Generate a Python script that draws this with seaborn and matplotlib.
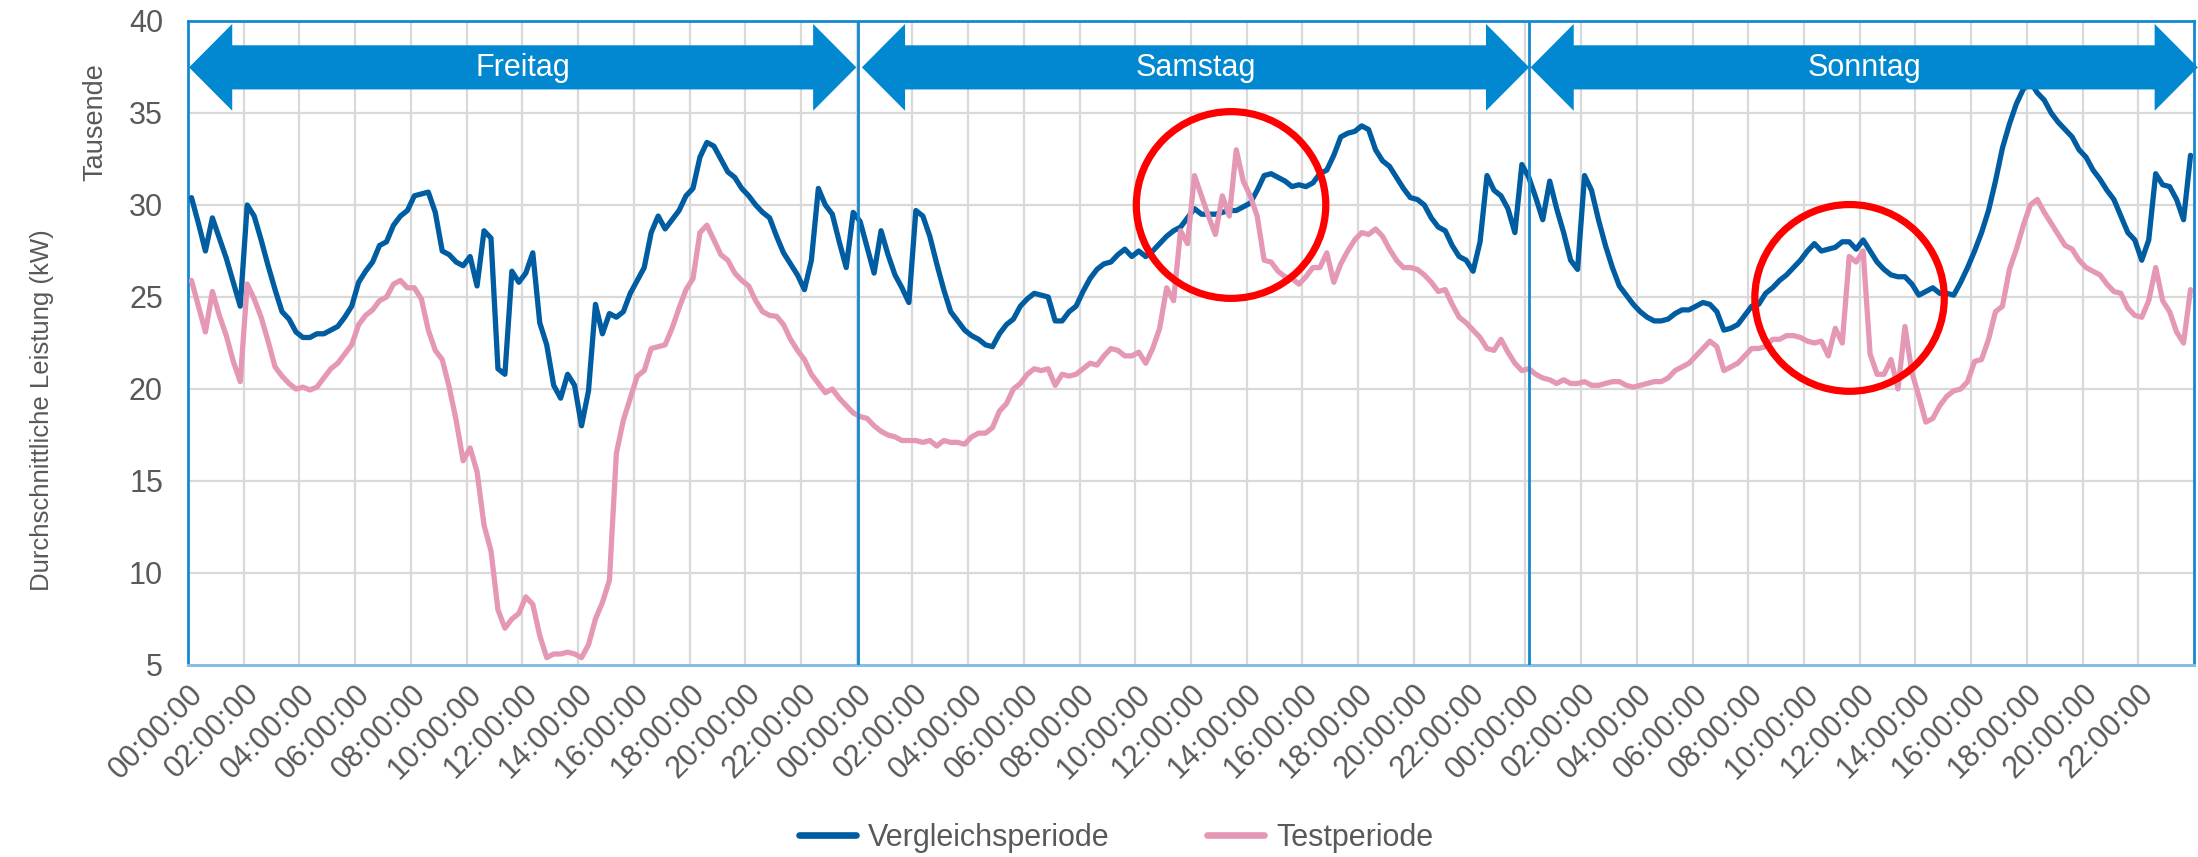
import numpy as np
import pandas as pd
import matplotlib
matplotlib.use("Agg")
import matplotlib.pyplot as plt
from matplotlib.patches import Polygon, Ellipse
from matplotlib.lines import Line2D
import seaborn as sns

# ---------------- data (15-min averages, thousands of kW) ----------------
days = ["Freitag", "Samstag", "Sonntag"]
hour_labels = ["00:00:00", "02:00:00", "04:00:00", "06:00:00", "08:00:00", "10:00:00",
               "12:00:00", "14:00:00", "16:00:00", "18:00:00", "20:00:00", "22:00:00"]
series_names = ["Vergleichsperiode", "Testperiode"]

vergleich_fr = [30.4, 29.0, 27.5, 29.3, 28.2, 27.1, 25.8, 24.5, 30.0, 29.4, 28.1, 26.7,
                25.4, 24.2, 23.8, 23.1, 22.8, 22.8, 23.0, 23.0, 23.2, 23.4, 23.9, 24.5,
                25.8, 26.4, 26.9, 27.8, 28.0, 28.9, 29.4, 29.7, 30.5, 30.6, 30.7, 29.6,
                27.5, 27.3, 26.9, 26.7, 27.2, 25.6, 28.6, 28.2, 21.1, 20.8, 26.4, 25.8,
                26.3, 27.4, 23.6, 22.4, 20.2, 19.5, 20.8, 20.2, 18.0, 19.9, 24.6, 23.0,
                24.1, 23.9, 24.2, 25.2, 25.9, 26.6, 28.5, 29.4, 28.7, 29.2, 29.7, 30.5,
                30.9, 32.6, 33.4, 33.2, 32.5, 31.8, 31.5, 30.9, 30.5, 30.0, 29.6, 29.3,
                28.3, 27.4, 26.8, 26.2, 25.4, 27.0, 30.9, 30.0, 29.5, 28.0, 26.6, 29.6]
vergleich_sa = [29.1, 27.7, 26.3, 28.6, 27.3, 26.2, 25.5, 24.7, 29.7, 29.4, 28.3, 26.8,
                25.4, 24.2, 23.7, 23.2, 22.9, 22.7, 22.4, 22.3, 23.0, 23.5, 23.8, 24.5,
                24.9, 25.2, 25.1, 25.0, 23.7, 23.7, 24.2, 24.5, 25.3, 26.0, 26.5, 26.8,
                26.9, 27.3, 27.6, 27.2, 27.5, 27.2, 27.5, 27.9, 28.3, 28.6, 28.8, 29.3,
                29.8, 29.5, 29.5, 29.5, 29.6, 29.7, 29.7, 29.9, 30.1, 30.8, 31.6, 31.7,
                31.5, 31.3, 31.0, 31.1, 31.0, 31.2, 31.7, 31.9, 32.7, 33.7, 33.9, 34.0,
                34.3, 34.1, 33.0, 32.4, 32.1, 31.5, 30.9, 30.4, 30.3, 30.0, 29.3, 28.8,
                28.6, 27.8, 27.2, 27.0, 26.4, 28.0, 31.6, 30.8, 30.5, 29.8, 28.5, 32.2]
vergleich_so = [31.5, 30.4, 29.2, 31.3, 29.8, 28.5, 27.0, 26.5, 31.6, 30.8, 29.2, 27.8,
                26.6, 25.6, 25.1, 24.6, 24.2, 23.9, 23.7, 23.7, 23.8, 24.1, 24.3, 24.3,
                24.5, 24.7, 24.6, 24.2, 23.2, 23.3, 23.5, 24.0, 24.5, 24.6, 25.2, 25.5,
                25.9, 26.2, 26.6, 27.0, 27.5, 27.9, 27.5, 27.6, 27.7, 28.0, 28.0, 27.6,
                28.1, 27.5, 26.9, 26.5, 26.2, 26.1, 26.1, 25.7, 25.1, 25.3, 25.5, 25.2,
                25.2, 25.1, 25.8, 26.6, 27.5, 28.5, 29.7, 31.3, 33.1, 34.4, 35.5, 36.3,
                36.7, 36.1, 35.7, 35.0, 34.5, 34.1, 33.7, 33.0, 32.6, 31.9, 31.4, 30.8,
                30.3, 29.4, 28.5, 28.1, 27.0, 28.1, 31.7, 31.1, 31.0, 30.3, 29.2, 32.7]

test_fr = [25.9, 24.5, 23.1, 25.3, 24.0, 22.9, 21.5, 20.4, 25.7, 24.9, 23.9, 22.6,
           21.2, 20.7, 20.3, 20.0, 20.1, 19.95, 20.1, 20.6, 21.1, 21.4, 21.9, 22.4,
           23.5, 24.0, 24.3, 24.8, 25.0, 25.7, 25.9, 25.5, 25.5, 24.9, 23.2, 22.1,
           21.6, 20.1, 18.3, 16.1, 16.8, 15.5, 12.6, 11.2, 8.0, 7.0, 7.5, 7.8,
           8.7, 8.3, 6.6, 5.4, 5.6, 5.6, 5.7, 5.6, 5.4, 6.1, 7.5, 8.4,
           9.6, 16.5, 18.3, 19.5, 20.7, 21.0, 22.2, 22.3, 22.4, 23.3, 24.4, 25.4,
           26.0, 28.5, 28.9, 28.1, 27.3, 27.0, 26.3, 25.9, 25.6, 24.8, 24.2, 24.0,
           23.95, 23.5, 22.7, 22.1, 21.6, 20.8, 20.3, 19.8, 20.0, 19.5, 19.1, 18.7]
test_sa = [18.5, 18.4, 18.0, 17.7, 17.5, 17.4, 17.2, 17.2, 17.2, 17.1, 17.2, 16.9,
           17.2, 17.1, 17.1, 17.0, 17.4, 17.6, 17.6, 17.9, 18.8, 19.2, 20.0, 20.3,
           20.8, 21.1, 21.0, 21.1, 20.2, 20.8, 20.7, 20.8, 21.1, 21.4, 21.3, 21.8,
           22.2, 22.1, 21.8, 21.8, 22.0, 21.4, 22.2, 23.3, 25.5, 24.8, 28.6, 27.9,
           31.6, 30.5, 29.4, 28.4, 30.5, 29.4, 33.0, 31.3, 30.5, 29.4, 27.0, 26.9,
           26.4, 26.1, 26.0, 25.7, 26.1, 26.6, 26.6, 27.4, 25.8, 26.8, 27.5, 28.1,
           28.5, 28.4, 28.7, 28.3, 27.6, 27.0, 26.6, 26.6, 26.5, 26.2, 25.8, 25.3,
           25.4, 24.6, 23.9, 23.6, 23.2, 22.8, 22.2, 22.1, 22.7, 22.0, 21.4, 21.0]
test_so = [21.1, 20.8, 20.6, 20.5, 20.3, 20.5, 20.3, 20.3, 20.4, 20.2, 20.2, 20.3,
           20.4, 20.4, 20.2, 20.1, 20.2, 20.3, 20.4, 20.4, 20.6, 21.0, 21.2, 21.4,
           21.8, 22.2, 22.6, 22.3, 21.0, 21.2, 21.4, 21.8, 22.2, 22.2, 22.3, 22.7,
           22.7, 22.9, 22.9, 22.8, 22.6, 22.5, 22.6, 21.8, 23.3, 22.5, 27.2, 26.9,
           27.5, 21.9, 20.8, 20.8, 21.6, 20.0, 23.4, 20.9, 19.6, 18.2, 18.4, 19.1,
           19.6, 19.9, 20.0, 20.4, 21.5, 21.6, 22.7, 24.2, 24.5, 26.5, 27.6, 28.9,
           30.0, 30.3, 29.6, 29.0, 28.4, 27.8, 27.6, 27.0, 26.6, 26.4, 26.2, 25.7,
           25.3, 25.2, 24.4, 24.0, 23.9, 24.8, 26.6, 24.8, 24.2, 23.1, 22.5, 25.4]

# highlighted periods (category index of centre, approx. value) - annotations
highlight_centres = [(149.25, 30.0), (238.05, 24.95)]

# ---------------- styling ----------------
BLUE = "#005DA2"
PINK = "#E597B6"
ARROW = "#0288D1"
FRAME = "#1589CF"
GRID = "#D9D9D9"
TXT = "#595959"

sns.set_theme(style="white")
plt.rcParams["font.family"] = ["Liberation Sans", "DejaVu Sans"]

vergleich = vergleich_fr + vergleich_sa + vergleich_so
test = test_fr + test_sa + test_so
n = len(vergleich)
per_day = n // len(days)
idx = np.arange(n)

df = pd.DataFrame({
    "slot": np.concatenate([idx, idx]),
    "kW": np.array(vergleich + test),
    "Serie": [series_names[0]] * n + [series_names[1]] * n,
})

fig = plt.figure(figsize=(21.98, 8.57), dpi=100)
ax = fig.add_axes([188 / 2198, 1 - 665 / 857, (2194 - 188) / 2198, (665 - 21) / 857])

sns.lineplot(data=df, x="slot", y="kW", hue="Serie", palette=[BLUE, PINK],
             linewidth=3.8, ax=ax, legend=False, zorder=3)

ax.set_xlim(-0.5, n - 0.5)
ax.set_ylim(5, 40)
ax.set_xlabel("")
ax.set_ylabel("")

# grid
step = 8
bounds = np.arange(-0.5, n - 0.5, step)
for b in bounds[1:]:
    ax.axvline(b, color=GRID, lw=1.6, zorder=1)
for yv in range(10, 40, 5):
    ax.axhline(yv, color=GRID, lw=1.6, zorder=1)

# ticks
ax.set_xticks(bounds)
ax.set_xticklabels(hour_labels * len(days), rotation=45, ha="right",
                   rotation_mode="anchor", fontsize=22, color=TXT)
ax.set_yticks(range(5, 41, 5))
ax.set_yticklabels([str(v) for v in range(5, 41, 5)], fontsize=22, color=TXT)
ax.tick_params(axis="x", length=0, pad=10)
ax.tick_params(axis="y", length=0, pad=18)

for side in ["top", "left", "right"]:
    ax.spines[side].set_color(FRAME)
    ax.spines[side].set_linewidth(2)
ax.spines["bottom"].set_color("#86BEE6")
ax.spines["bottom"].set_linewidth(2.2)

# day separators
for k in range(1, len(days)):
    ax.axvline(k * per_day - 0.5 + 0.25 * k, color=FRAME, lw=2, zorder=4)

# day arrows
y_c, sh_h, hd_h, hd_len = 37.48, 1.2, 2.36, 6.2
for k, name in enumerate(days):
    x0 = k * per_day - 0.5 + (0.15 if k == 0 else 0.75)
    x1 = x0 + 95.8
    pts = [(x0, y_c), (x0 + hd_len, y_c + hd_h), (x0 + hd_len, y_c + sh_h),
           (x1 - hd_len, y_c + sh_h), (x1 - hd_len, y_c + hd_h), (x1, y_c),
           (x1 - hd_len, y_c - hd_h), (x1 - hd_len, y_c - sh_h),
           (x0 + hd_len, y_c - sh_h), (x0 + hd_len, y_c - hd_h)]
    ax.add_patch(Polygon(pts, closed=True, facecolor=ARROW, edgecolor="none",
                         zorder=6, clip_on=False))
    ax.text((x0 + x1) / 2, y_c - 0.05, name, color="white", fontsize=22,
            ha="center", va="center", zorder=7)

# red highlight ellipses
for cx, cy in highlight_centres:
    ax.add_patch(Ellipse((cx, cy), 27.2, 10.15, fill=False, edgecolor="#FF0000",
                         lw=5.2, zorder=5))

# axis titles
fig.text(42 / 2198, 1 - 410 / 857, "Durchschnittliche Leistung (kW)", rotation=90,
         ha="center", va="center", fontsize=18.5, color=TXT)
fig.text(95 / 2198, 1 - 122 / 857, "Tausende", rotation=90,
         ha="center", va="center", fontsize=19.5, color=TXT)

# legend
handles = [Line2D([0], [0], color=BLUE, lw=4.8), Line2D([0], [0], color=PINK, lw=4.8)]
fig.legend(handles, series_names, loc="center", bbox_to_anchor=(1116 / 2198, 1 - 838 / 857),
           ncol=2, frameon=False, fontsize=22, handlelength=1.85, handletextpad=0.4,
           columnspacing=3.2, labelcolor=TXT)

fig.savefig("out.png", dpi=100, facecolor="white")
